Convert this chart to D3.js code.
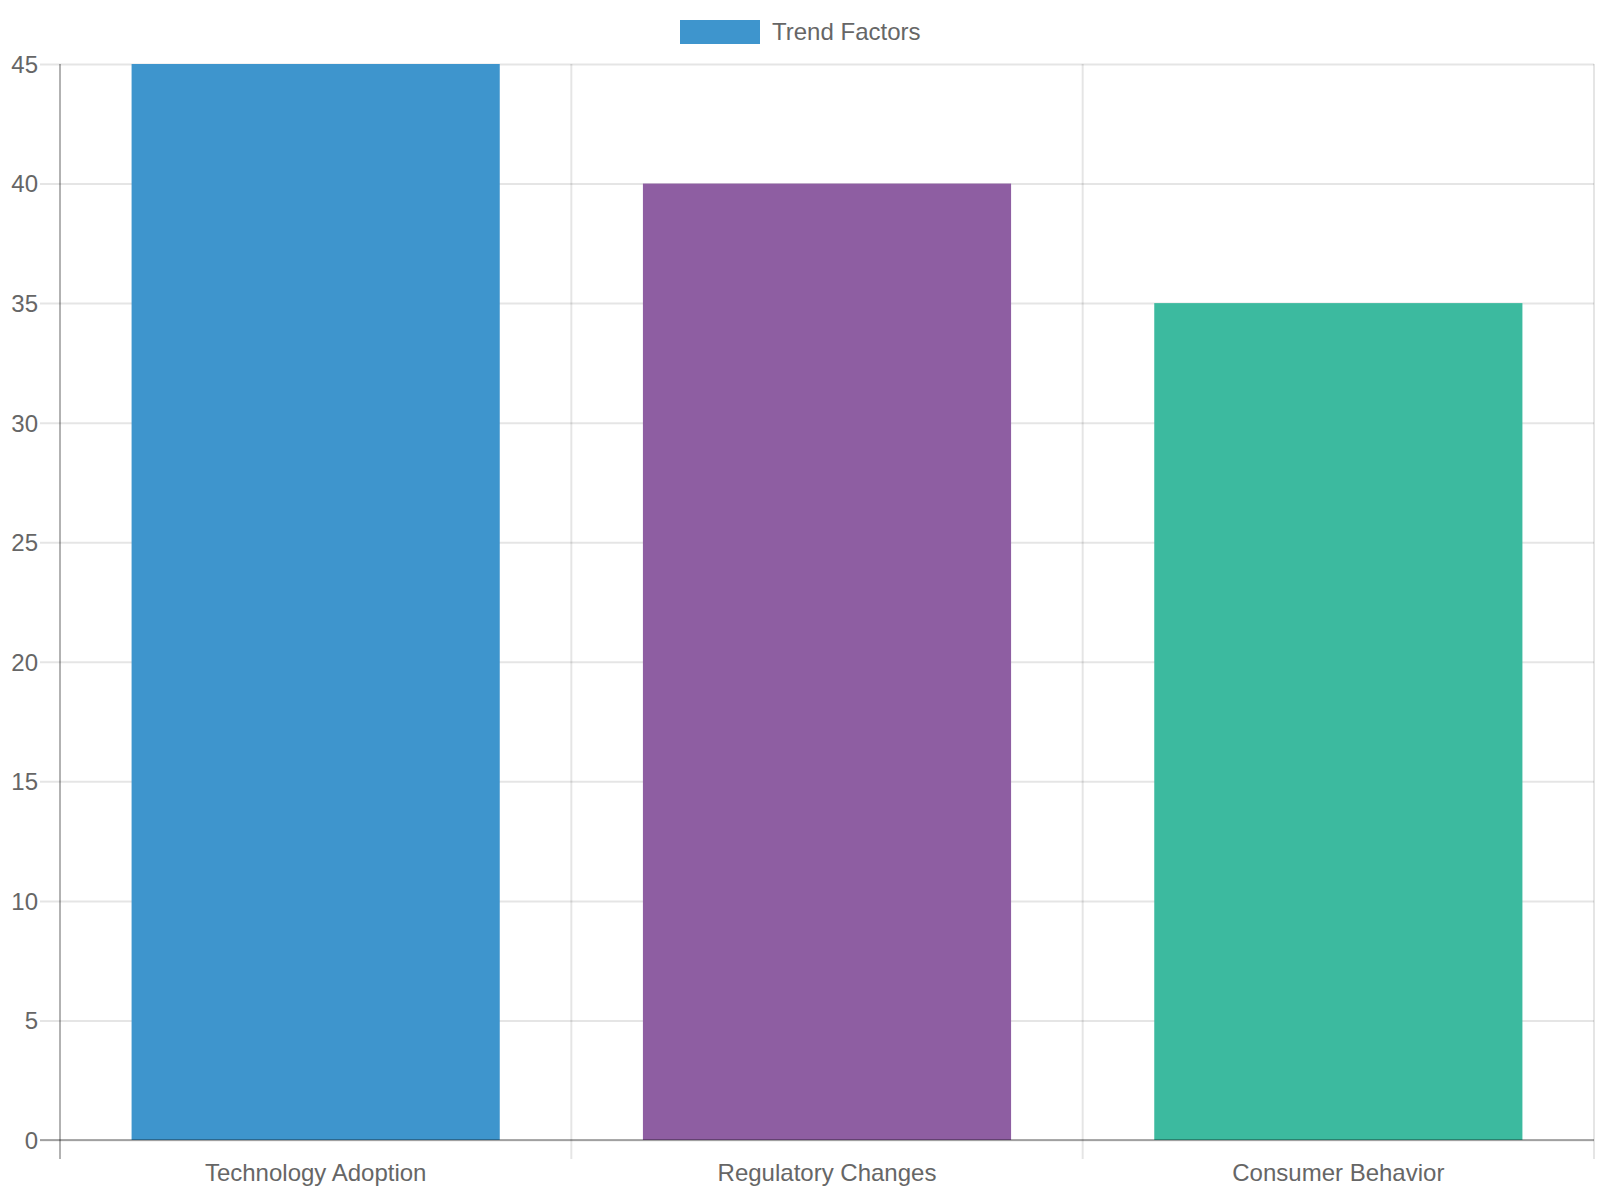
<!DOCTYPE html>
<html lang="en">
<head>
    <meta charset="UTF-8">
    <title>Trend Factors</title>
    <script src="https://cdnjs.cloudflare.com/ajax/libs/d3/7.9.0/d3.min.js"></script>
    <style>
        body {
            margin: 0;
            background: #fff;
            font-family: "Liberation Sans", Arial, Helvetica, sans-serif;
        }
        svg text {
            fill: #666;
            font-size: 24px;
        }
        .grid line {
            stroke: rgba(0, 0, 0, 0.1);
            stroke-width: 2;
        }
        .grid path {
            display: none;
        }
    </style>
</head>
<body>
    <div id="chart"></div>
    <script>
        const categories = ["Technology Adoption", "Regulatory Changes", "Consumer Behavior"];
        const values = [45, 40, 35];
        const seriesName = "Trend Factors";
        const yTicks = [0, 5, 10, 15, 20, 25, 30, 35, 40, 45];
        const barColors = ["#3e95cd", "#8e5ea2", "#3cba9f"];

        const width = 1600;
        const height = 1200;
        const margin = { top: 64, right: 6, bottom: 60, left: 60 };
        const axisColor = "rgba(0,0,0,0.3)";

        const svg = d3.select("#chart")
            .append("svg")
            .attr("width", width)
            .attr("height", height);

        const x = d3.scaleBand()
            .domain(categories)
            .range([margin.left, width - margin.right])
            .paddingInner(0.28)
            .paddingOuter(0.14);

        // category lines sit at the edges of each step
        const xCat = d3.scaleBand()
            .domain(categories)
            .range([margin.left, width - margin.right]);

        const y = d3.scaleLinear()
            .domain([0, 45])
            .range([height - margin.bottom, margin.top]);

        const plotBottom = height - margin.bottom;

        // horizontal gridlines with ticks
        svg.append("g")
            .attr("class", "grid")
            .attr("transform", `translate(${margin.left},0)`)
            .call(d3.axisLeft(y).tickValues(yTicks).tickSize(20).tickFormat(""))
            .call(g => g.selectAll(".tick line").attr("x2", width - margin.right - margin.left).attr("x1", -20));

        // vertical gridlines at category edges
        const edges = categories.map(c => xCat(c)).concat([width - margin.right]);
        svg.append("g")
            .attr("class", "grid")
            .selectAll("line")
            .data(edges.slice(1))
            .enter()
            .append("line")
            .attr("x1", d => d)
            .attr("x2", d => d)
            .attr("y1", margin.top)
            .attr("y2", plotBottom + 19);

        // bars
        svg.selectAll(".bar")
            .data(values)
            .enter()
            .append("rect")
            .attr("class", "bar")
            .attr("x", (d, i) => x(categories[i]))
            .attr("y", d => y(d))
            .attr("width", x.bandwidth())
            .attr("height", d => plotBottom - y(d))
            .attr("fill", (d, i) => barColors[i]);

        // y axis
        const yAxis = svg.append("g")
            .attr("transform", `translate(${margin.left},0)`)
            .call(d3.axisLeft(y).tickValues(yTicks).tickSize(20).tickPadding(2));
        yAxis.select(".domain").remove();
        yAxis.selectAll(".tick line").remove();
        yAxis.selectAll("text")
            .attr("dy", "0.35em");
        yAxis.attr("font-family", null).attr("font-size", null);

        svg.append("line")
            .attr("x1", margin.left)
            .attr("x2", margin.left)
            .attr("y1", margin.top)
            .attr("y2", plotBottom + 19)
            .attr("stroke", axisColor)
            .attr("stroke-width", 2);

        // x axis
        const xAxis = svg.append("g")
            .attr("transform", `translate(0,${plotBottom})`)
            .call(d3.axisBottom(xCat).tickSize(0).tickPadding(0));
        xAxis.attr("font-family", null).attr("font-size", null);
        xAxis.select(".domain").remove();
        xAxis.selectAll("text")
            .attr("y", 41)
            .attr("dy", null);

        svg.append("line")
            .attr("x1", margin.left - 20)
            .attr("x2", width - margin.right)
            .attr("y1", plotBottom)
            .attr("y2", plotBottom)
            .attr("stroke", axisColor)
            .attr("stroke-width", 2);

        // legend
        const legendW = 80 + 12 + 148;
        const lx = (width - legendW) / 2;
        const legend = svg.append("g").attr("transform", `translate(${lx},20)`);
        legend.append("rect")
            .attr("width", 80)
            .attr("height", 24)
            .attr("fill", barColors[0]);
        legend.append("text")
            .attr("x", 92)
            .attr("y", 20)
            .text(seriesName);
    </script>
</body>
</html>
